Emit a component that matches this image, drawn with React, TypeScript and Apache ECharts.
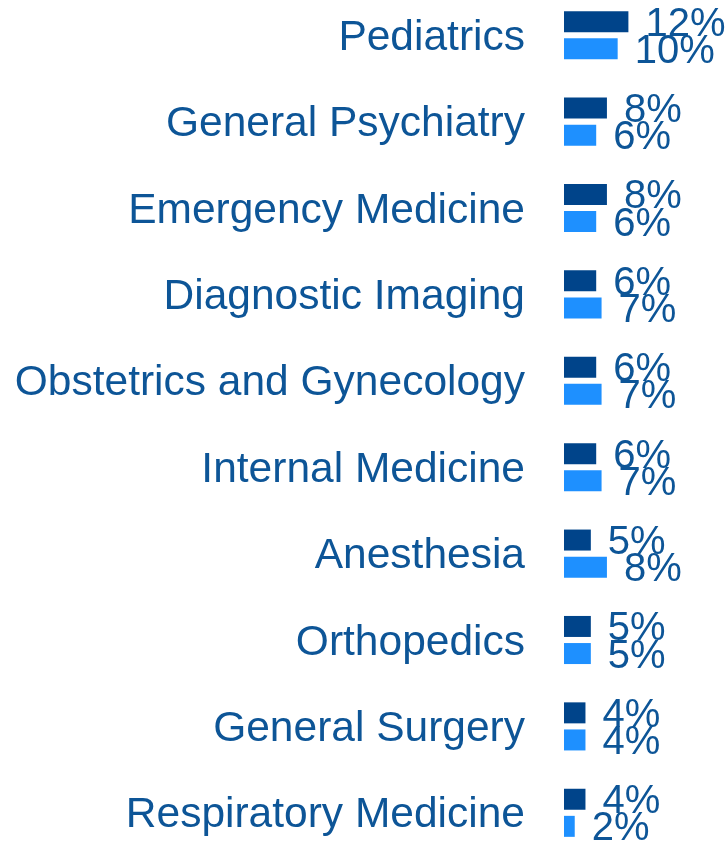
import React, { useEffect, useRef } from "react";
import * as echarts from "echarts";

const categories = [
  "Pediatrics",
  "General Psychiatry",
  "Emergency Medicine",
  "Diagnostic Imaging",
  "Obstetrics and Gynecology",
  "Internal Medicine",
  "Anesthesia",
  "Orthopedics",
  "General Surgery",
  "Respiratory Medicine",
];
const seriesA = [12, 8, 8, 6, 6, 6, 5, 5, 4, 4];
const seriesB = [10, 6, 6, 7, 7, 7, 8, 5, 4, 2];

const textColor = "#0d5597";
const font = "'Liberation Sans', Arial, sans-serif";

export default function App() {
  const ref = useRef<HTMLDivElement>(null);
  useEffect(() => {
    if (!ref.current) return;
    const chart = echarts.init(ref.current, undefined, { renderer: "svg" });
    const label = {
      show: true,
      position: "right",
      distance: 17,
      formatter: "{c}%",
      color: textColor,
      fontSize: 40,
      fontFamily: font,
    };
    chart.setOption({
      animation: false,
      grid: { left: 564, top: 0, width: 165, bottom: 0, containLabel: false },
      xAxis: {
        type: "value",
        min: 0,
        max: 30,
        show: false,
      },
      yAxis: {
        type: "category",
        data: categories,
        inverse: true,
        axisLine: { show: false },
        axisTick: { show: false },
        splitLine: { show: false },
        axisLabel: {
          color: textColor,
          fontSize: 42.5,
          fontFamily: font,
          margin: 39,
        },
      },
      series: [
        {
          type: "bar",
          data: seriesA,
          barWidth: 21,
          barGap: "29%",
          itemStyle: { color: "#00448a" },
          label,
        },
        {
          type: "bar",
          data: seriesB,
          barWidth: 21,
          barGap: "29%",
          itemStyle: { color: "#1e90ff" },
          label,
        },
      ],
    });
    return () => chart.dispose();
  }, []);
  return (
    <div
      style={{
        position: "fixed",
        left: 0,
        top: 0,
        width: 725,
        height: 842,
        overflow: "hidden",
      }}
    >
      <div
        ref={ref}
        style={{ position: "absolute", left: 0, top: -8, width: 725, height: 864 }}
      />
    </div>
  );
}
